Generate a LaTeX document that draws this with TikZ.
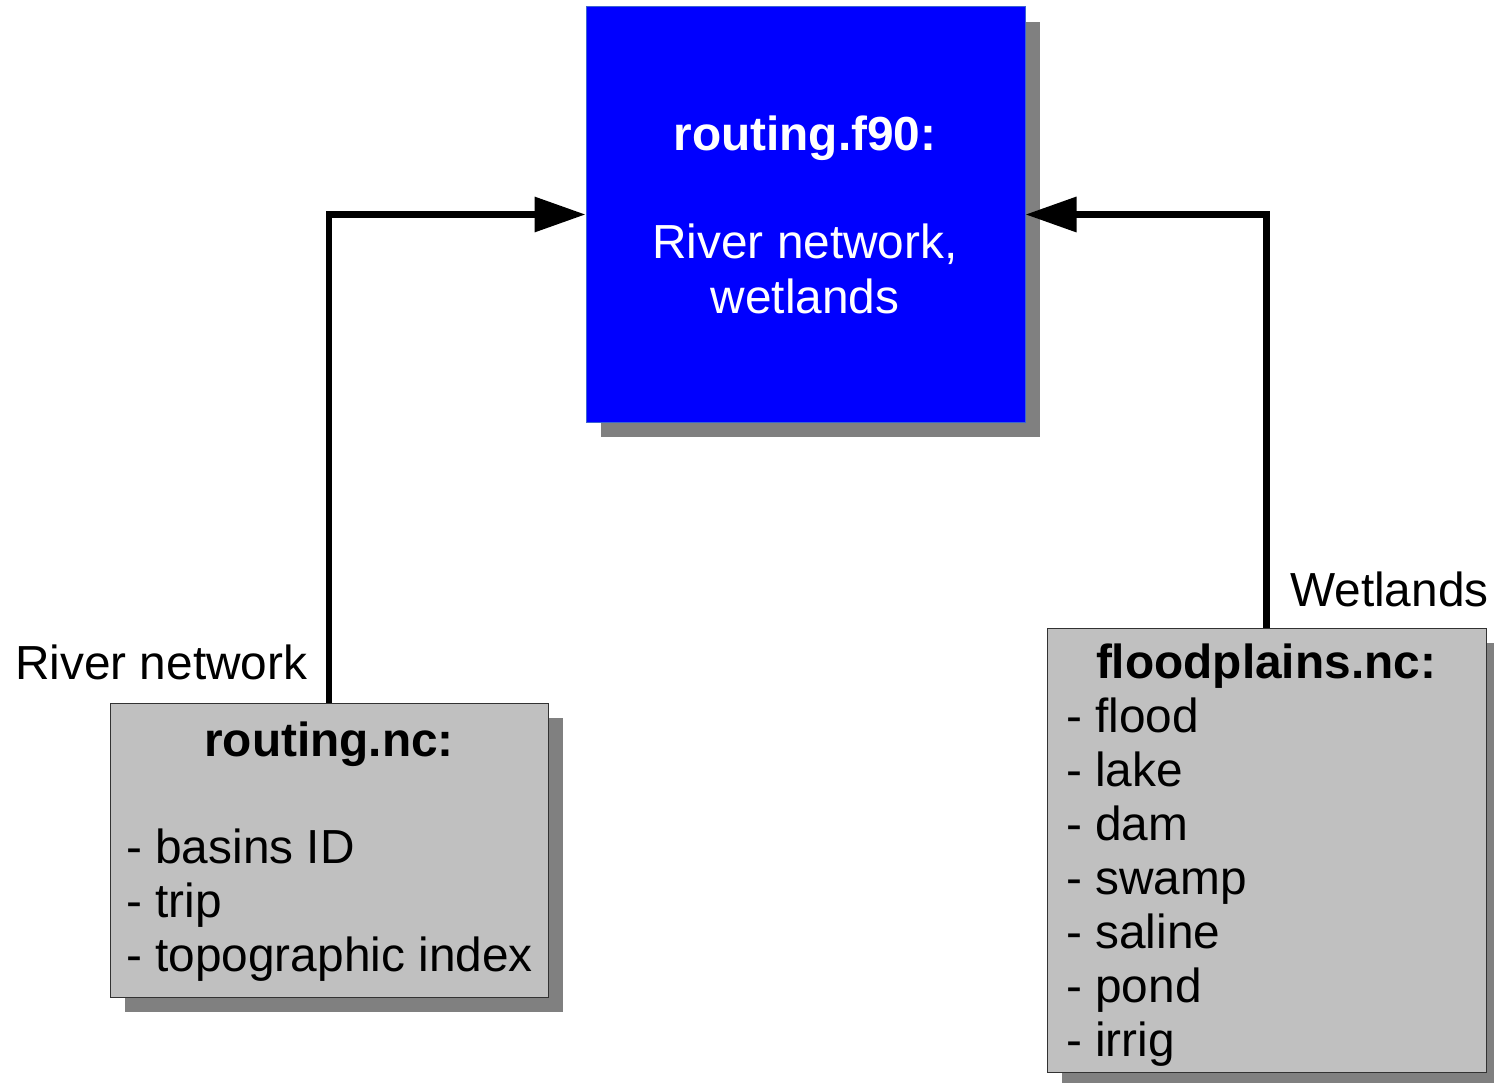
\documentclass[tikz,border=0pt]{standalone}
\usepackage{fontspec}
\setmainfont{Liberation Sans}
\usetikzlibrary{arrows.meta,shadows}
\definecolor{boxblue}{RGB}{0,0,255}
\definecolor{blueedge}{RGB}{60,100,210}
\definecolor{boxgray}{RGB}{192,192,192}
\definecolor{shadowgray}{RGB}{128,128,128}
\definecolor{grayedge}{RGB}{50,50,50}
\begin{document}
\begin{tikzpicture}[x=1pt,y=-1pt,
  shad/.style={drop shadow={shadow xshift=15pt,shadow yshift=-15pt,fill=shadowgray,opacity=1}},
  bluebox/.style={rectangle,fill=boxblue,draw=blueedge,line width=1pt,inner sep=0,shad},
  graybox/.style={rectangle,fill=boxgray,draw=grayedge,line width=1pt,inner sep=0,shad},
  txt/.style={inner sep=0,font=\fontsize{47.8}{54}\selectfont},
  ltxt/.style={txt,anchor=base west},
  ctxt/.style={txt,anchor=base},
  conn/.style={line width=6.5pt,-{Triangle[length=51pt,width=34pt]}}
]
\useasboundingbox (0,0) rectangle (1494,1083);
\node[bluebox,minimum width=439pt,minimum height=415pt] (f90) at (805.5,214.5) {};
\node[graybox,minimum width=438pt,minimum height=294pt] (rnc) at (329,850) {};
\node[graybox,minimum width=439pt,minimum height=444pt] (fnc) at (1266.5,850) {};
% blue box text
\node[ctxt,text=white,font=\fontsize{47.8}{54}\selectfont\bfseries] (t1) at (805,151) {routing.f90:};
\node[ctxt,text=white] (t2) at (805,259) {River network,};
\node[ctxt,text=white] (t3) at (805,313) {wetlands};
% routing.nc text
\node[ctxt,font=\fontsize{47.8}{54}\selectfont\bfseries] (r0) at (329,756) {routing.nc:};
\node[ltxt] (r1) at (126,863) {- basins ID};
\node[ltxt] (r2) at (126,917) {- trip};
\node[ltxt] (r3) at (126,971) {- topographic index};
% floodplains.nc text
\node[ctxt,font=\fontsize{47.8}{54}\selectfont\bfseries] (f0) at (1266,678) {floodplains.nc:};
\foreach \t [count=\i] in {flood,lake,dam,swamp,saline,pond,irrig}
  \node[ltxt] (f\i) at (1066,678+54*\i) {- \t};
% labels
\node[ltxt] (lr) at (15,679) {River network};
\node[ltxt] (lw) at (1290,606) {Wetlands};
% connectors
\draw[conn] (rnc.north) |- (f90.west);
\draw[conn] (fnc.north) |- (f90.east);
\end{tikzpicture}
\end{document}
